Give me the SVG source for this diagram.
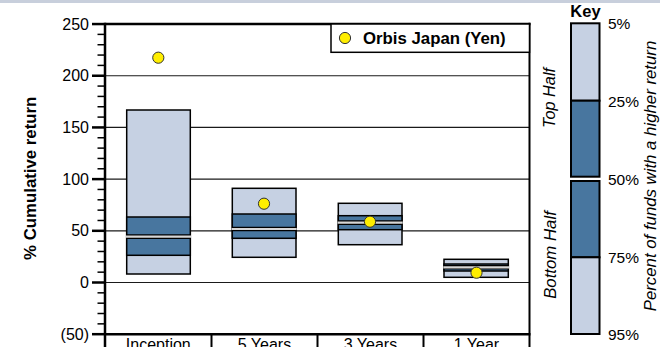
<svg xmlns="http://www.w3.org/2000/svg" width="660" height="347" viewBox="0 0 660 347">
<style>
.t{font-family:"Liberation Sans",Arial,sans-serif;font-size:16px;fill:#000}
.b{font-weight:bold}
.i{font-style:italic}
.lt{fill:#c6d1e3;stroke:#000;stroke-width:1.5}
.dk{fill:#48769f;stroke:#000;stroke-width:1.5}
.grid{stroke:#1a1a1a;stroke-width:1.2}
.minor{stroke:#000;stroke-width:1.5}
.major{stroke:#000;stroke-width:2.5}
.dot{fill:#ffee00;stroke:#333;stroke-width:1}
.medk{stroke:#000;stroke-width:4.6}
.medg{stroke:#d6d6d6;stroke-width:2.2}
</style>
<rect x="0" y="0" width="660" height="347" fill="#fff"/>
<rect x="0" y="0" width="660" height="3" fill="#c8cfdc"/>

<g id="grid">
<line class="grid" x1="105" y1="75.74" x2="529.5" y2="75.74"/>
<line class="grid" x1="105" y1="127.43" x2="529.5" y2="127.43"/>
<line class="grid" x1="105" y1="179.12" x2="529.5" y2="179.12"/>
<line class="grid" x1="105" y1="230.81" x2="529.5" y2="230.81"/>
<line class="grid" x1="105" y1="282.5" x2="529.5" y2="282.5"/>
</g>

<g id="axis">
<g class="minor">
<line x1="97.5" y1="34.39" x2="105" y2="34.39"/><line x1="97.5" y1="44.73" x2="105" y2="44.73"/><line x1="97.5" y1="55.06" x2="105" y2="55.06"/><line x1="97.5" y1="65.4" x2="105" y2="65.4"/>
<line x1="97.5" y1="86.08" x2="105" y2="86.08"/><line x1="97.5" y1="96.42" x2="105" y2="96.42"/><line x1="97.5" y1="106.75" x2="105" y2="106.75"/><line x1="97.5" y1="117.09" x2="105" y2="117.09"/>
<line x1="97.5" y1="137.77" x2="105" y2="137.77"/><line x1="97.5" y1="148.11" x2="105" y2="148.11"/><line x1="97.5" y1="158.44" x2="105" y2="158.44"/><line x1="97.5" y1="168.78" x2="105" y2="168.78"/>
<line x1="97.5" y1="189.46" x2="105" y2="189.46"/><line x1="97.5" y1="199.8" x2="105" y2="199.8"/><line x1="97.5" y1="210.13" x2="105" y2="210.13"/><line x1="97.5" y1="220.47" x2="105" y2="220.47"/>
<line x1="97.5" y1="241.15" x2="105" y2="241.15"/><line x1="97.5" y1="251.49" x2="105" y2="251.49"/><line x1="97.5" y1="261.82" x2="105" y2="261.82"/><line x1="97.5" y1="272.16" x2="105" y2="272.16"/>
<line x1="97.5" y1="292.84" x2="105" y2="292.84"/><line x1="97.5" y1="303.18" x2="105" y2="303.18"/><line x1="97.5" y1="313.51" x2="105" y2="313.51"/><line x1="97.5" y1="323.85" x2="105" y2="323.85"/>
</g>
<g class="major">
<line x1="92" y1="24.05" x2="105" y2="24.05"/><line x1="92" y1="75.74" x2="105" y2="75.74"/><line x1="92" y1="127.43" x2="105" y2="127.43"/><line x1="92" y1="179.12" x2="105" y2="179.12"/><line x1="92" y1="230.81" x2="105" y2="230.81"/><line x1="92" y1="282.5" x2="105" y2="282.5"/><line x1="92" y1="334.19" x2="105" y2="334.19"/>
</g>
<g class="t" text-anchor="end">
<text x="89" y="29.6">250</text>
<text x="89" y="81.3">200</text>
<text x="89" y="133">150</text>
<text x="89" y="184.7">100</text>
<text x="89" y="236.4">50</text>
<text x="89" y="288.1">0</text>
<text x="89" y="339.8">(50)</text>
</g>
<text class="t b" font-size="17" transform="translate(36,178.3) rotate(-90)" text-anchor="middle" style="font-size:16.8px">% Cumulative return</text>
</g>

<g id="box-inception">
<rect class="lt" x="126.7" y="110" width="63.6" height="164"/>
<rect class="dk" x="126.7" y="217" width="63.6" height="38.3"/>
<line class="medk" x1="126.7" y1="236.6" x2="190.3" y2="236.6"/>
<line class="medg" x1="126" y1="236.6" x2="191" y2="236.6"/>
<circle class="dot" cx="158.3" cy="57.7" r="5.6"/>
</g>
<g id="box-5y">
<rect class="lt" x="232.3" y="188.3" width="63.7" height="69"/>
<rect class="dk" x="232.3" y="214" width="63.7" height="24.3"/>
<line class="medk" x1="232.3" y1="229" x2="296" y2="229"/>
<line class="medg" x1="231.6" y1="229" x2="296.7" y2="229"/>
<circle class="dot" cx="264" cy="203.7" r="5.6"/>
</g>
<g id="box-3y">
<rect class="lt" x="338.3" y="203.3" width="63.7" height="41.4"/>
<rect class="dk" x="338.3" y="215.7" width="63.7" height="14"/>
<line class="medk" x1="338.3" y1="222.6" x2="402" y2="222.6"/>
<line class="medg" x1="337.6" y1="222.6" x2="402.7" y2="222.6"/>
<circle class="dot" cx="370" cy="221.7" r="5.6"/>
</g>
<g id="box-1y">
<rect class="lt" x="444" y="259.3" width="64.3" height="18"/>
<rect class="dk" x="444" y="264" width="64.3" height="7"/>
<line class="medk" x1="444" y1="267.3" x2="508.3" y2="267.3"/>
<line class="medg" x1="443.3" y1="267.3" x2="509" y2="267.3"/>
<circle class="dot" cx="476.5" cy="272.7" r="5.6"/>
</g>

<g id="frame" stroke="#000" fill="none">
<line x1="105" y1="24.05" x2="530.5" y2="24.05" stroke-width="2.5"/>
<line x1="105" y1="334.19" x2="530.5" y2="334.19" stroke-width="2.5"/>
<line x1="105" y1="22.8" x2="105" y2="347" stroke-width="2.5"/>
<line x1="529.5" y1="22.8" x2="529.5" y2="347" stroke-width="2"/>
<line x1="211.5" y1="334" x2="211.5" y2="347" stroke-width="2"/>
<line x1="317.5" y1="334" x2="317.5" y2="347" stroke-width="2"/>
<line x1="423.5" y1="334" x2="423.5" y2="347" stroke-width="2"/>
</g>
<g class="t" text-anchor="middle">
<text x="158.3" y="350">Inception</text>
<text x="264.5" y="350">5 Years</text>
<text x="370.5" y="350">3 Years</text>
<text x="476.5" y="350">1 Year</text>
</g>

<g id="legend">
<rect x="331" y="24" width="198.5" height="28.3" fill="#fff" stroke="#000" stroke-width="1.5"/>
<circle class="dot" cx="345" cy="38" r="5.6"/>
<text class="t b" x="363" y="44.3" style="font-size:16.8px">Orbis Japan (Yen)</text>
</g>

<g id="key">
<text class="t b" x="585.5" y="16.5" text-anchor="middle" style="font-size:16.5px">Key</text>
<rect class="lt" x="571" y="23.3" width="28.5" height="77.4" style="stroke-width:2"/>
<rect class="dk" x="571" y="100.7" width="28.5" height="76" style="stroke-width:2"/>
<rect class="dk" x="571" y="181" width="28.5" height="76.3" style="stroke-width:2"/>
<rect class="lt" x="571" y="257.3" width="28.5" height="76.7" style="stroke-width:2"/>
<g class="t" style="font-size:15.5px">
<text x="608" y="29.3">5%</text>
<text x="608" y="107">25%</text>
<text x="608" y="184.5">50%</text>
<text x="608" y="262.8">75%</text>
<text x="608" y="339.8">95%</text>
</g>
<text class="t i" transform="translate(555,98) rotate(-90)" text-anchor="middle" style="font-size:16.3px">Top Half</text>
<text class="t i" transform="translate(556,255) rotate(-90)" text-anchor="middle" style="font-size:16.8px">Bottom Half</text>
<text class="t i" transform="translate(655.5,176) rotate(-90)" text-anchor="middle" style="font-size:16.8px">Percent of funds with a higher return</text>
</g>
</svg>
